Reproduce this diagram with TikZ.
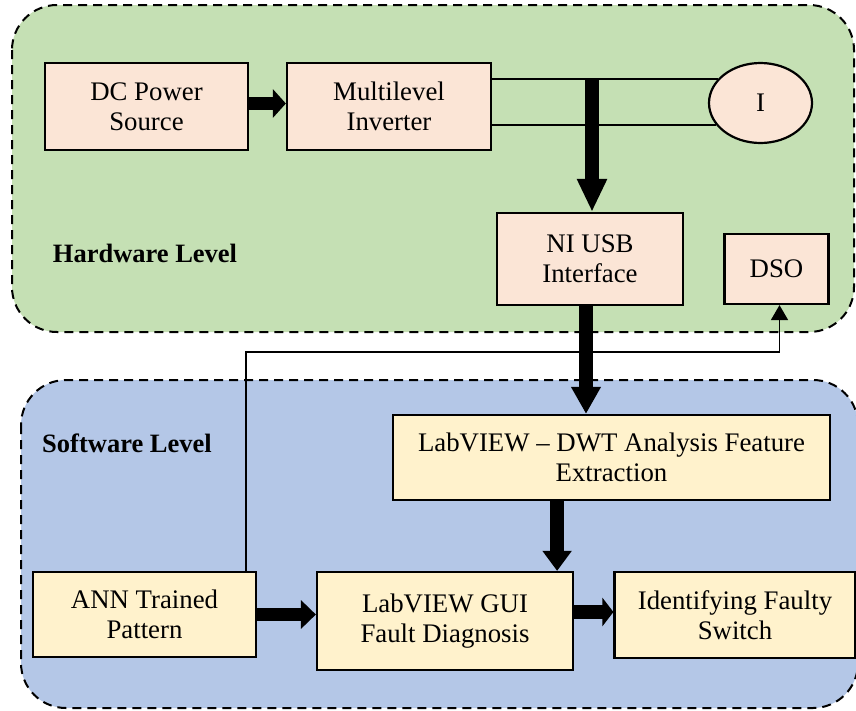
\documentclass[tikz,border=0pt]{standalone}
\usepackage{fontspec}
\setmainfont{Liberation Serif}
\usetikzlibrary{arrows.meta,shapes.geometric,calc}
\definecolor{hwgreen}{HTML}{C5E0B4}
\definecolor{swblue}{HTML}{B4C7E7}
\definecolor{boxpink}{HTML}{FBE5D6}
\definecolor{boxyellow}{HTML}{FFF2CC}
\begin{document}
\begin{tikzpicture}[x=1pt,y=-1pt,
  region/.style={draw, line width=2pt, dash pattern=on 9pt off 6pt, rounded corners=45pt},
  blk/.style={draw, line width=2.2pt, align=center, font=\fontsize{26.8}{30}\selectfont, inner sep=0pt},
  hwbox/.style={blk, fill=boxpink},
  swbox/.style={blk, fill=boxyellow},
  bigarrow/.style={line width=13.5pt, -{Triangle[width=28pt,length=#1]}},
  bigarrow/.default=20pt,
  wire/.style={line width=2pt},
  thinarrow/.style={line width=1.6pt, -{Triangle[width=17pt,length=15pt]}},
  lvl/.style={font=\fontsize{26.5}{30}\selectfont\bfseries}
]
\useasboundingbox (0,0) rectangle (856,710);
% regions
\draw[region, fill=hwgreen] (12,5) rectangle (854,332);
\draw[region, fill=swblue] (21,380) rectangle (858,708);
% hardware nodes
\node[hwbox, minimum width=203, minimum height=87] (dc) at (146.5,106.5) {DC Power\\Source};
\node[hwbox, minimum width=204, minimum height=87] (mi) at (389,106.5) {Multilevel\\Inverter};
\node[draw, ellipse, line width=2.2pt, fill=boxpink, minimum width=103, minimum height=80, inner sep=0pt, font=\fontsize{26.8}{30}\selectfont] (im) at (760.5,103) {I};
\node[hwbox, minimum width=186, minimum height=92] (ni) at (590,259) {NI USB\\Interface};
\node[hwbox, minimum width=104, minimum height=70] (dso) at (776.5,269) {DSO};
\node[lvl] (hw) at (145,253) {Hardware Level};
% software nodes
\node[lvl] (sw) at (127,443) {Software Level};
\node[swbox, minimum width=437, minimum height=85] (dwt) at (611.5,457.5) {LabVIEW – DWT Analysis Feature\\Extraction};
\node[swbox, minimum width=223, minimum height=85] (ann) at (144.5,614.5) {ANN Trained\\Pattern};
\node[swbox, minimum width=256, minimum height=98] (gui) at (445,621) {LabVIEW GUI\\Fault Diagnosis};
\node[swbox, minimum width=241, minimum height=86] (fs) at (735,615) {Identifying Faulty\\Switch};
% wires to load
\draw[wire] (im.151) -- (im.151 -| mi.east);
\draw[wire] (im.207) -- (im.207 -| mi.east);
% thick arrows
\coordinate (tap) at ($(im.151 -| ni.north)+(2,0)$);
\draw[bigarrow=33pt] (tap) -- (tap |- ni.north);
\draw[bigarrow=13pt] ($(dc.east)+(0,-3)$) -- ($(mi.west)+(0,-3)$);
\coordinate (nb) at ($(ni.south)+(-4,0)$);
\draw[bigarrow=27pt] (nb) -- (nb |- dwt.north);
\coordinate (db) at ($(gui.north east)+(-17,0)$);
\draw[bigarrow=20pt] (db |- dwt.south) -- (db);
\draw[bigarrow=15pt] (ann.east) -- (ann.east -| gui.west);
\draw[bigarrow=11pt] ($(fs.west -| gui.east)+(0,-3)$) -- ($(fs.west)+(0,-3)$);
% feedback line to DSO
\coordinate (as) at ($(ann.north east)+(-11,0)$);
\coordinate (ds) at ($(dso.south)+(3,0)$);
\coordinate (ylev) at (0,352);
\draw[thinarrow] (as) -- (as |- ylev) -- (ds |- ylev) -- (ds);
\end{tikzpicture}
\end{document}
